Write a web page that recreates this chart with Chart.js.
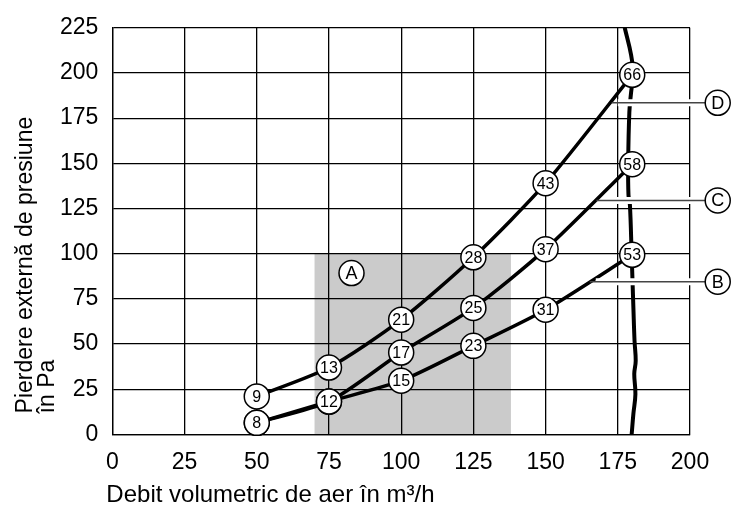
<!DOCTYPE html>
<html>
<head>
<meta charset="utf-8">
<script src="https://cdn.jsdelivr.net/npm/chart.js@4"></script>
<style>
  body { margin: 0; background: #fff; }
  #wrap { width: 731px; height: 507px; }
</style>
</head>
<body>
<div id="wrap"><canvas id="chart" width="731" height="507"></canvas></div>
<script>
const fontFamily = '"Liberation Sans", Arial, sans-serif';

// curves: external pressure loss (Pa) over air flow (m³/h)
const flowSteps = [50, 75, 100, 125, 150, 180];
const curveD = [21, 37, 63.5, 98, 139, 199];
const curveC = [6.4, 18.2, 45.3, 70, 102.5, 149.5];
const curveB = [6.4, 18.2, 29.7, 49, 69, 99.4];
const labelsD = ["9", "13", "21", "28", "43", "66"];
const labelsC = ["8", "12", "17", "25", "37", "58"];
const labelsB = ["8", "12", "15", "23", "31", "53"];

// fan limit curve
const fanFlow = [177.4, 179.6, 180.3, 179.6, 179, 178.6, 178.7, 179.2, 179.8, 180.1, 180.4, 180.8, 181.2, 180.7, 181.1, 180.4, 179.8];
const fanPressure = [225, 210, 199.3, 189.2, 178.2, 150.7, 132.4, 126.9, 99.4, 84.7, 70, 51.7, 40.7, 33.4, 22.4, 11.4, 0];

// grey recommended range A
const shadeFlow = [70, 138];
const shadePressure = [0, 100];

// letter markers and their leader lines
const markerNames = ["A", "B", "C", "D"];
const markerFlow = [82.8, 209.6, 209.6, 209.6];
const markerPressure = [89.3, 84.5, 129.5, 183.5];
const leaderStart = [null, 165.3, 167.6, 172.9];

const xTicks = [0, 25, 50, 75, 100, 125, 150, 175, 200];
const yTicks = [0, 25, 50, 75, 100, 125, 150, 175, 200, 225];
const xTitle = "Debit volumetric de aer în m³/h";
const yTitle = ["Pierdere externă de presiune", "în Pa"];

function toPoints(xs, ys) {
    return xs.map((x, i) => ({ x, y: ys[i] }));
}

function curveSeries(values) {
    return {
        data: toPoints(flowSteps, values),
        borderColor: "#000",
        borderWidth: 3.5,
        pointRadius: 0,
        tension: 0.25,
        fill: false,
    };
}

function drawBadge(ctx, cx, cy, text, radius, font) {
    ctx.beginPath();
    ctx.arc(cx, cy, radius, 0, Math.PI * 2);
    ctx.fillStyle = "#fff";
    ctx.fill();
    ctx.lineWidth = 1.5;
    ctx.strokeStyle = "#000";
    ctx.stroke();
    ctx.fillStyle = "#000";
    ctx.font = font;
    ctx.textAlign = "center";
    ctx.textBaseline = "middle";
    ctx.fillText(text, cx, cy + 1);
}

const overlayPlugin = {
    id: "overlay",
    beforeDraw(chart) {
        const { ctx } = chart;
        const { x, y } = chart.scales;
        const left = x.getPixelForValue(shadeFlow[0]);
        const right = x.getPixelForValue(shadeFlow[1]);
        const top = y.getPixelForValue(shadePressure[1]);
        const bottom = y.getPixelForValue(shadePressure[0]);
        ctx.save();
        ctx.fillStyle = "#cbcbcb";
        ctx.fillRect(left, top, right - left, bottom - top);
        ctx.restore();
    },
    afterDatasetsDraw(chart) {
        const { ctx } = chart;
        const { x, y } = chart.scales;
        const radius = 12.5;
        ctx.save();

        // leader lines with a white halo where they cross other lines
        markerNames.forEach((name, i) => {
            if (leaderStart[i] === null) return;
            const py = y.getPixelForValue(markerPressure[i]);
            const x0 = x.getPixelForValue(leaderStart[i]);
            const x1 = x.getPixelForValue(markerFlow[i]) - radius;
            ctx.lineCap = "butt";
            ctx.strokeStyle = "#fff";
            ctx.lineWidth = 7;
            ctx.beginPath();
            ctx.moveTo(x0 + 6, py);
            ctx.lineTo(x1, py);
            ctx.stroke();
            ctx.strokeStyle = "#444";
            ctx.lineWidth = 1.5;
            ctx.beginPath();
            ctx.moveTo(x0, py);
            ctx.lineTo(x1, py);
            ctx.stroke();
        });

        const numberFont = `16px ${fontFamily}`;
        [[curveD, labelsD], [curveC, labelsC], [curveB, labelsB]].forEach(([values, labels]) => {
            values.forEach((value, i) => {
                drawBadge(ctx, x.getPixelForValue(flowSteps[i]), y.getPixelForValue(value), labels[i], radius, numberFont);
            });
        });

        const letterFont = `18px ${fontFamily}`;
        markerNames.forEach((name, i) => {
            drawBadge(ctx, x.getPixelForValue(markerFlow[i]), y.getPixelForValue(markerPressure[i]), name, radius, letterFont);
        });
        ctx.restore();
    },
    afterDraw(chart) {
        const { ctx, chartArea } = chart;
        ctx.save();
        ctx.fillStyle = "#000";
        ctx.textBaseline = "alphabetic";
        ctx.textAlign = "left";

        ctx.font = `24px ${fontFamily}`;
        ctx.fillText(xTitle, chartArea.left - 6, chartArea.bottom + 68);

        ctx.translate(chartArea.left - 80, chartArea.bottom - 21);
        ctx.rotate(-Math.PI / 2);
        ctx.font = `23px ${fontFamily}`;
        yTitle.forEach((line, i) => ctx.fillText(line, 0, i * 22));
        ctx.restore();
    },
};

const gridStyle = { color: "#000", lineWidth: 1.3, drawTicks: false };

new Chart(document.getElementById("chart"), {
    type: "line",
    data: {
        datasets: [
            curveSeries(curveD),
            curveSeries(curveC),
            curveSeries(curveB),
            {
                data: toPoints(fanFlow, fanPressure),
                borderColor: "#000",
                borderWidth: 4,
                pointRadius: 0,
                tension: 0.4,
                fill: false,
            },
        ],
    },
    options: {
        responsive: false,
        animation: false,
        devicePixelRatio: 1,
        layout: { padding: { left: 46, right: 41, top: 12, bottom: 17 } },
        plugins: {
            legend: { display: false },
            tooltip: { enabled: false },
        },
        scales: {
            x: {
                type: "linear",
                min: 0,
                max: 200,
                afterBuildTicks: (scale) => { scale.ticks = xTicks.map((value) => ({ value })); },
                ticks: { color: "#000", font: { family: fontFamily, size: 23 }, padding: 14 },
                grid: gridStyle,
                border: { color: "#000", width: 1.3 },
            },
            y: {
                type: "linear",
                min: 0,
                max: 225,
                afterBuildTicks: (scale) => { scale.ticks = yTicks.map((value) => ({ value })); },
                ticks: { color: "#000", font: { family: fontFamily, size: 23 }, padding: 14 },
                grid: gridStyle,
                border: { color: "#000", width: 1.3 },
            },
        },
    },
    plugins: [overlayPlugin],
});
</script>
</body>
</html>
